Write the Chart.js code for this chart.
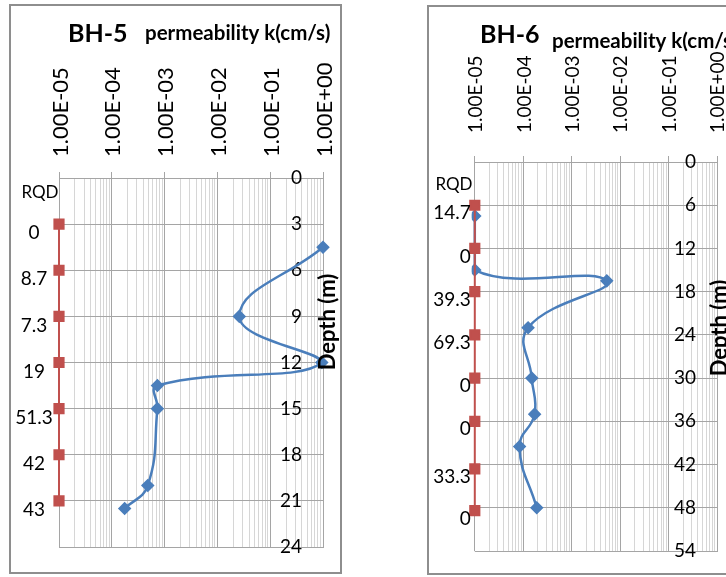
<!DOCTYPE html>
<html>
<head>
<meta charset="utf-8">
<script src="https://cdn.jsdelivr.net/npm/chart.js@4"></script>
<style>
  html, body { margin: 0; padding: 0; background: #fff; overflow: hidden; }
  body { width: 726px; height: 577px; position: relative; }
  .panel { position: absolute; border: 2px solid #8e8e8e; background: #fff; }
  .panel canvas { display: block; }
  #p5 { left: 9px; top: 4px; }
  #p6 { left: 427px; top: 5px; }
</style>
</head>
<body>
<div class="panel" id="p5"><canvas id="bh5" width="329" height="566"></canvas></div>
<div class="panel" id="p6"><canvas id="bh6" width="329" height="566"></canvas></div>
<script>
// permeability axis (log), one label per decade
const decades = [1e-5, 1e-4, 1e-3, 1e-2, 1e-1, 1];
const decadeLabels = ["1.00E-05", "1.00E-04", "1.00E-03", "1.00E-02", "1.00E-01", "1.00E+00"];
const rqdAxisK = 1e-5; // RQD markers sit on the left edge of the plot

// BH-5
const bh5Depth = [4.5, 9, 12, 13.5, 15, 20, 21.5];
const bh5K = [1.0, 0.026, 0.95, 7.3e-4, 7.3e-4, 4.8e-4, 1.75e-4];
const bh5RqdDepth = [3, 6, 9, 12, 15, 18, 21];
const bh5Rqd = [0, 8.7, 7.3, 19, 51.3, 42, 43];
const bh5DepthMax = 24, bh5DepthStep = 3;

// BH-6
const bh6Depth = [7.5, 15, 16.5, 23, 30, 35, 39.5, 48];
const bh6K = [1e-5, 1e-5, 5.3e-3, 1.26e-4, 1.5e-4, 1.72e-4, 8.4e-5, 1.9e-4];
const bh6RqdDepth = [6, 12, 18, 24, 30, 36, 42.6, 48.4];
const bh6Rqd = [14.7, 0, 39.3, 69.3, 0, 0, 33.3, 0];
const bh6DepthMax = 54, bh6DepthStep = 6;

Chart.defaults.font.family = "Lato";
Chart.defaults.color = "#000";

const isDecade = v => decades.some(d => Math.abs(v / d - 1) < 1e-6);

function logTicks(scale) {
  const ticks = [];
  decades.forEach((d, i) => {
    if (i === decades.length - 1) { ticks.push({ value: d }); return; }
    for (let m = 1; m < 10; m++) ticks.push({ value: +(m * d).toPrecision(6) });
  });
  scale.ticks = ticks;
}

function decadeLabel(value) {
  const i = decades.findIndex(d => Math.abs(value / d - 1) < 1e-6);
  return i >= 0 ? decadeLabels[i] : "";
}

const panelText = {
  id: "panelText",
  afterDatasetsDraw(chart, args, o) {
    const ctx = chart.ctx;
    ctx.save();
    ctx.fillStyle = "#000";
    ctx.textAlign = "left";
    ctx.textBaseline = "alphabetic";
    ctx.font = `bold ${o.nameSize}px Lato`;
    ctx.fillText(o.name, o.nameX, o.nameY);
    ctx.font = `bold ${o.subSize}px Lato`;
    ctx.fillText(o.sub, o.subX, o.subY);

    ctx.textBaseline = "middle";
    ctx.textAlign = "center";
    ctx.font = `${o.rqdSize}px Lato`;
    ctx.fillText("RQD", o.rqdX, o.rqdY);

    ctx.font = `${o.valueSize}px Lato`;
    ctx.textAlign = o.labelAlign;
    const pts = chart.data.datasets[0].data;
    chart.getDatasetMeta(0).data.forEach((el, i) => {
      ctx.fillText(String(pts[i].rqd), el.x + o.labelDx, el.y + o.labelDy);
    });

    ctx.translate(o.depthX, o.depthY);
    ctx.rotate(-Math.PI / 2);
    ctx.textAlign = "center";
    ctx.font = `bold ${o.depthSize}px Lato`;
    ctx.fillText("Depth (m)", 0, 0);
    ctx.restore();
  }
};

function makeChart(id, c) {
  return new Chart(document.getElementById(id), {
    type: "scatter",
    data: {
      datasets: [
        {
          label: "RQD",
          order: 0,
          data: c.rqdDepth.map((d, i) => ({ x: rqdAxisK, y: d, rqd: c.rqd[i] })),
          showLine: true,
          borderColor: "#c0504d",
          backgroundColor: "#c0504d",
          borderWidth: 2,
          pointStyle: "rect",
          pointRadius: 6.5,
          tension: 0,
          clip: false
        },
        {
          label: "k",
          order: 1,
          data: c.depth.map((d, i) => ({ x: c.k[i], y: d })),
          showLine: true,
          borderColor: "#4a7ebb",
          backgroundColor: "#4a7ebb",
          borderWidth: 2.5,
          pointStyle: "rectRot",
          pointRadius: 5,
          tension: 0.45,
          clip: { left: 3, top: 5, right: 8, bottom: 5 }
        }
      ]
    },
    options: {
      responsive: false,
      animation: false,
      layout: { padding: { left: c.areaLeft, top: 0, right: 0, bottom: c.padBottom } },
      plugins: {
        legend: { display: false },
        tooltip: { enabled: false },
        panelText: c.text
      },
      scales: {
        x: {
          type: "logarithmic",
          position: "top",
          min: 1e-5,
          max: 1,
          afterBuildTicks: logTicks,
          afterFit: s => { s.height = c.areaTop; },
          ticks: {
            autoSkip: false,
            minRotation: 90,
            maxRotation: 90,
            padding: c.xPad,
            labelOffset: c.xShift,
            font: { size: c.xFont },
            callback: decadeLabel
          },
          grid: {
            color: ctx => (ctx.tick && isDecade(ctx.tick.value) ? "#a5a5a5" : "#d6d6d6"),
            tickColor: ctx => (ctx.tick && isDecade(ctx.tick.value) ? "#a5a5a5" : "rgba(0,0,0,0)"),
            tickLength: 6
          },
          border: { color: "#a5a5a5" }
        },
        y: {
          type: "linear",
          position: "right",
          reverse: true,
          min: 0,
          max: c.depthMax,
          afterFit: s => { s.width = c.yWidth; },
          ticks: { stepSize: c.depthStep, mirror: true, padding: -21, font: { size: 19 } },
          grid: { color: "#a5a5a5", drawTicks: false },
          border: { color: "#a5a5a5" }
        }
      }
    },
    plugins: [panelText]
  });
}

makeChart("bh5", {
  depth: bh5Depth, k: bh5K, rqdDepth: bh5RqdDepth, rqd: bh5Rqd,
  depthMax: bh5DepthMax, depthStep: bh5DepthStep,
  areaLeft: 48, areaTop: 172, padBottom: 25, yWidth: 17, xPad: 15, xFont: 22, xShift: 28,
  text: {
    name: "BH-5", nameX: 57, nameY: 36, nameSize: 25,
    sub: "permeability k(cm/s)", subX: 134, subY: 34, subSize: 20.5,
    rqdX: 29, rqdY: 187, rqdSize: 17, valueSize: 19,
    labelAlign: "center", labelDx: -25, labelDy: 9,
    depthX: 317, depthY: 316, depthSize: 22
  }
});

makeChart("bh6", {
  depth: bh6Depth, k: bh6K, rqdDepth: bh6RqdDepth, rqd: bh6Rqd,
  depthMax: bh6DepthMax, depthStep: bh6DepthStep,
  areaLeft: 44, areaTop: 155, padBottom: 22, yWidth: 41, xPad: 23, xFont: 19, xShift: 24,
  text: {
    name: "BH-6", nameX: 51, nameY: 36, nameSize: 25,
    sub: "permeability k(cm/s)", subX: 123, subY: 41, subSize: 20.5,
    rqdX: 25, rqdY: 178, rqdSize: 17, valueSize: 19,
    labelAlign: "right", labelDx: -4, labelDy: 8,
    depthX: 291, depthY: 321, depthSize: 22
  }
});
</script>
</body>
</html>
